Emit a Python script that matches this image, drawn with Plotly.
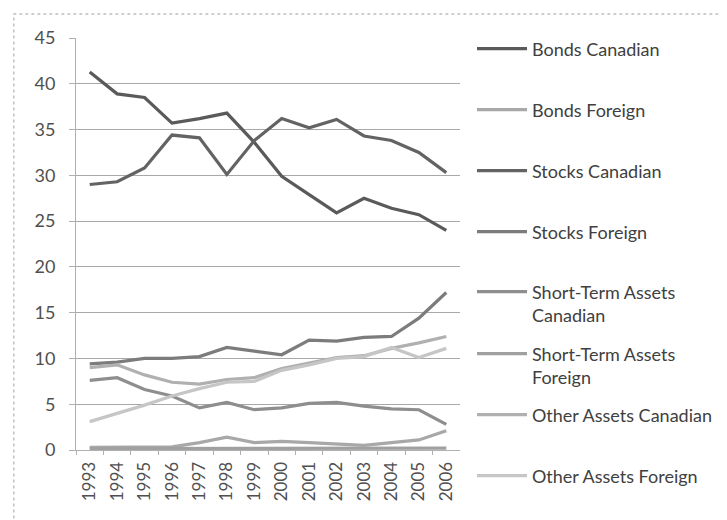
import plotly.graph_objects as go

years = [str(y) for y in range(1993, 2007)]

bonds_canadian = [41.3, 38.9, 38.5, 35.7, 36.2, 36.8, 33.6, 29.9, 27.9, 25.9, 27.5, 26.4, 25.7, 24.0]
bonds_foreign = [0.3, 0.3, 0.35, 0.35, 0.8, 1.4, 0.8, 0.95, 0.8, 0.65, 0.5, 0.8, 1.1, 2.1]
stocks_canadian = [29.0, 29.3, 30.8, 34.4, 34.1, 30.1, 33.8, 36.2, 35.2, 36.1, 34.3, 33.8, 32.5, 30.3]
stocks_foreign = [9.4, 9.6, 10.0, 10.0, 10.2, 11.2, 10.8, 10.4, 12.0, 11.9, 12.3, 12.4, 14.4, 17.2]
short_term_canadian = [7.6, 7.9, 6.6, 5.9, 4.6, 5.2, 4.4, 4.6, 5.1, 5.2, 4.8, 4.5, 4.4, 2.8]
short_term_foreign = [0.15, 0.15, 0.15, 0.15, 0.15, 0.2, 0.2, 0.2, 0.2, 0.2, 0.2, 0.2, 0.2, 0.2]
other_canadian = [9.0, 9.3, 8.2, 7.4, 7.2, 7.7, 7.9, 8.9, 9.5, 10.1, 10.3, 11.1, 11.7, 12.4]
other_foreign = [3.1, 4.0, 4.9, 5.9, 6.7, 7.4, 7.5, 8.7, 9.3, 10.0, 10.2, 11.2, 10.1, 11.1]

series_names = ["Bonds Canadian", "Bonds Foreign", "Stocks Canadian", "Stocks Foreign",
                "Short-Term Assets<br>Canadian", "Short-Term Assets<br>Foreign",
                "Other Assets Canadian", "Other Assets Foreign"]
series_values = [bonds_canadian, bonds_foreign, stocks_canadian, stocks_foreign,
                 short_term_canadian, short_term_foreign, other_canadian, other_foreign]
colors = ["#5a5a5a", "#a8a8a8", "#636363", "#7c7c7c", "#8e8e8e", "#a0a0a0", "#b0b0b0", "#c6c6c6"]

W, H = 727, 520
FONT = "Lato"

fig = go.Figure()
legend_centers = [41, 102, 163, 224, 295.5, 357.5, 407, 468]
for i, (name, vals, col) in enumerate(zip(series_names, series_values, colors)):
    lg = "legend" if i == 0 else f"legend{i+1}"
    fig.add_trace(go.Scatter(x=years, y=vals, mode="lines", name=name,
                             line=dict(color=col, width=3.2), legend=lg))

legend_common = dict(xref="container", yref="container", xanchor="left", yanchor="middle",
                     bgcolor="rgba(0,0,0,0)", borderwidth=0,
                     font=dict(family=FONT, size=18, color="#404040"),
                     itemwidth=50, valign="top")
layout_legends = {}
for i, c in enumerate(legend_centers):
    key = "legend" if i == 0 else f"legend{i+1}"
    layout_legends[key] = dict(legend_common, x=464 / W, y=1 - c / H)

fig.update_layout(
    width=W, height=H,
    margin=dict(l=68, r=W - 457, t=30, b=H - 442),
    paper_bgcolor="white", plot_bgcolor="white",
    showlegend=True,
    xaxis=dict(type="category", range=[-0.5, 13.5], tickangle=-90,
               showgrid=False, showline=True, linecolor="#b0b0b0", linewidth=1,
               ticks="outside", tickson="boundaries", ticklen=4, tickcolor="#b0b0b0",
               ticklabelstandoff=4,
               tickfont=dict(family=FONT, size=17, color="#505050")),
    yaxis=dict(range=[0, 45], dtick=5, showgrid=True, gridcolor="#a8a8a8", gridwidth=1,
               showline=True, linecolor="#b0b0b0", linewidth=1,
               ticks="outside", ticklen=6, tickcolor="#b0b0b0", zeroline=False,
               ticklabelstandoff=10,
               tickfont=dict(family=FONT, size=18, color="#505050")),
    shapes=[dict(type="rect", xref="paper", yref="paper",
                 x0=(5 - 68) / 389, x1=(724 - 68) / 389,
                 y0=(442 - 515) / 412, y1=(442 - 6) / 412,
                 line=dict(color="#c0c0c0", width=1.5, dash="dot"), layer="below")],
    **layout_legends,
)

fig.write_html("out.html")
